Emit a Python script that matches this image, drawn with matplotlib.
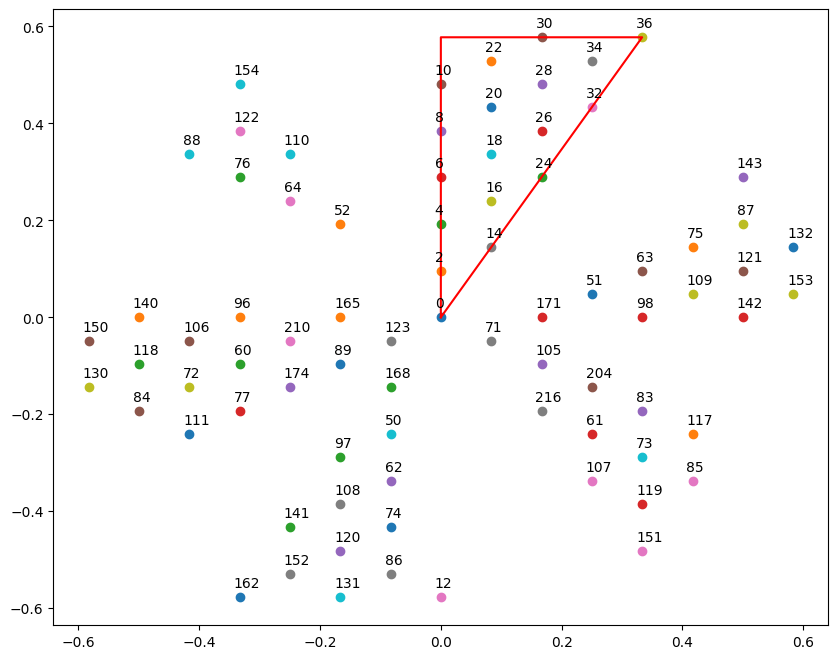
import matplotlib
matplotlib.use("Agg")
import matplotlib.pyplot as plt


# point labels (plotted in this order, one scatter call each so colours cycle)
labels = [
    0, 2, 4, 6, 8, 10, 12, 14, 16, 18, 20, 22, 24, 26, 28, 30, 32, 34, 36,
    50, 51, 52, 60, 61, 62, 63, 64, 71, 72, 73, 74, 75, 76, 77,
    83, 84, 85, 86, 87, 88, 89, 96, 97, 98,
    105, 106, 107, 108, 109, 110, 111, 117, 118, 119, 120, 121, 122, 123,
    130, 131, 132, 140, 141, 142, 143, 150, 151, 152, 153, 154,
    162, 165, 168, 171, 174, 204, 210, 216,
]

x_vals = [
    0.0, 0.0, 0.0, 0.0, 0.0, 0.0, 0.0, 0.0833, 0.0833, 0.0833, 0.0833, 0.0833,
    0.1667, 0.1667, 0.1667, 0.1667, 0.25, 0.25, 0.3333,
    -0.0833, 0.25, -0.1667, -0.3333, 0.25, -0.0833, 0.3333, -0.25, 0.0833,
    -0.4167, 0.3333, -0.0833, 0.4167, -0.3333, -0.3333,
    0.3333, -0.5, 0.4167, -0.0833, 0.5, -0.4167, -0.1667, -0.3333, -0.1667, 0.3333,
    0.1667, -0.4167, 0.25, -0.1667, 0.4167, -0.25, -0.4167, 0.4167, -0.5, 0.3333,
    -0.1667, 0.5, -0.3333, -0.0833,
    -0.5833, -0.1667, 0.5833, -0.5, -0.25, 0.5, 0.5, -0.5833, 0.3333, -0.25,
    0.5833, -0.3333,
    -0.3333, -0.1667, -0.0833, 0.1667, -0.25, 0.25, -0.25, 0.1667,
]

y_vals = [
    0.0, 0.0962, 0.1925, 0.2887, 0.3849, 0.4811, -0.5774, 0.1443, 0.2406, 0.3368,
    0.4330, 0.5292, 0.2887, 0.3849, 0.4811, 0.5774, 0.4330, 0.5292, 0.5774,
    -0.2406, 0.0481, 0.1925, -0.0962, -0.2406, -0.3368, 0.0962, 0.2406, -0.0481,
    -0.1443, -0.2887, -0.4330, 0.1443, 0.2887, -0.1925,
    -0.1925, -0.1925, -0.3368, -0.5292, 0.1925, 0.3368, -0.0962, 0.0, -0.2887, 0.0,
    -0.0962, -0.0481, -0.3368, -0.3849, 0.0481, 0.3368, -0.2406, -0.2406, -0.0962,
    -0.3849, -0.4811, 0.0962, 0.3849, -0.0481,
    -0.1443, -0.5774, 0.1443, 0.0, -0.4330, 0.0, 0.2887, -0.0481, -0.4811, -0.5292,
    0.0481, 0.4811,
    -0.5774, 0.0, -0.1443, 0.0, -0.1443, -0.1443, -0.0481, -0.1925,
]

# red outline triangle
tri_x = [0.0, 0.0, 0.3333, 0.0]
tri_y = [0.0, 0.5774, 0.5774, 0.0]


fig, ax = plt.subplots(figsize=(10, 8))

for label, x, y in zip(labels, x_vals, y_vals):
    ax.scatter(x, y)
    ax.text(x - 0.01, y + 0.02, str(label))

ax.plot(tri_x, tri_y, color="red")

plt.savefig("out.png", dpi=100, bbox_inches="tight")
plt.close()
